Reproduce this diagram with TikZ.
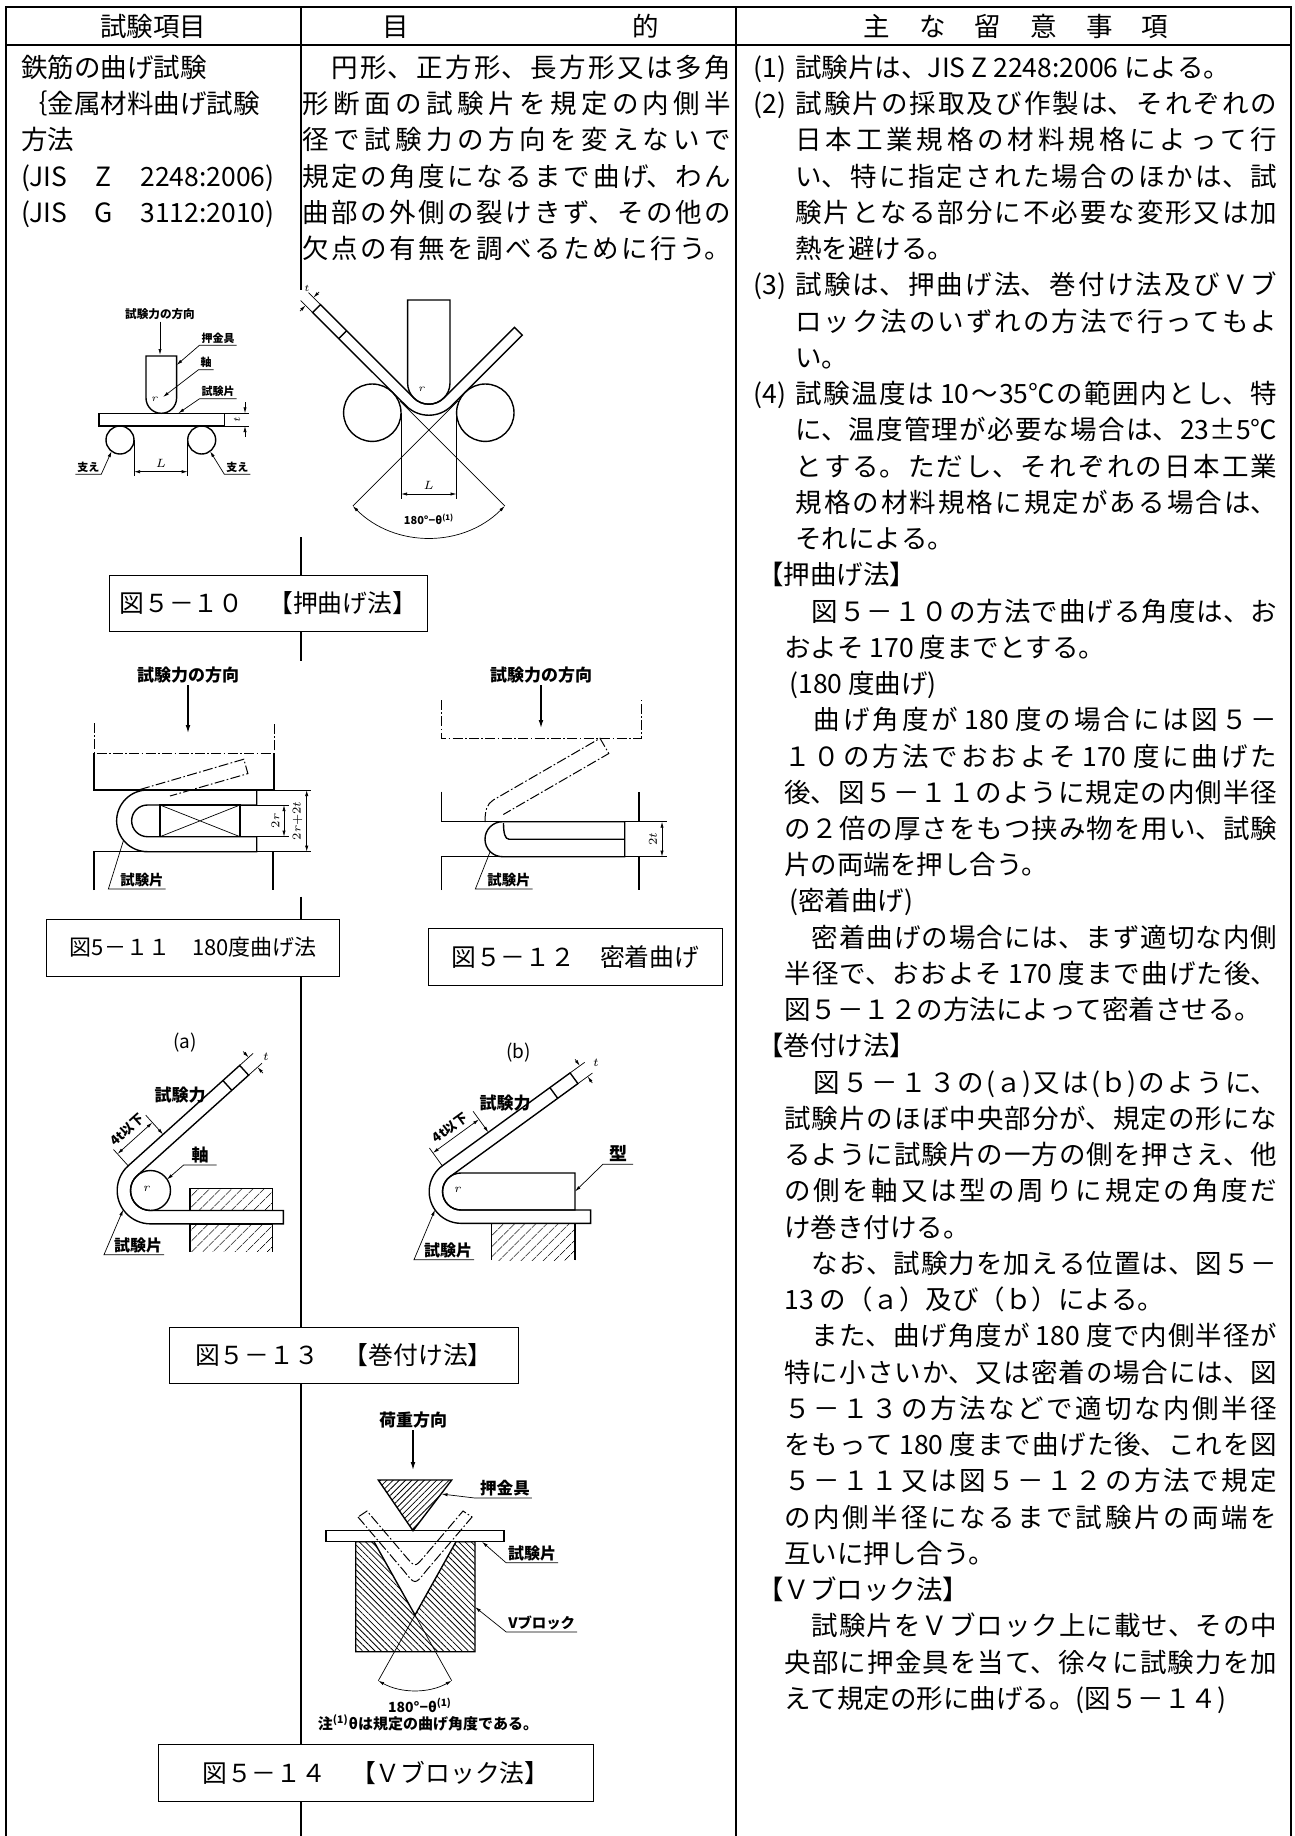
\documentclass[tikz,border=0pt]{standalone}
\usepackage{fontspec}
\setmainfont{Noto Sans CJK JP}
\usetikzlibrary{arrows.meta,patterns.meta}
\XeTeXlinebreaklocale "ja"
\XeTeXlinebreakskip=0pt plus 8pt minus 1pt
\XeTeXlinebreakpenalty=10000
\setlength{\parindent}{0pt}
\setlength{\parskip}{0pt}
\tolerance=10000
\newcommand{\bodyfont}{\fontsize{13.25pt}{18.12pt}\selectfont}
\tikzset{
  tbl/.style={line width=1pt},
  body/.style={font=\bodyfont, inner sep=0pt, anchor=north west, align=justify},
  capbox/.style={draw, line width=0.5pt, inner sep=0pt, font=\fontsize{#1}{#1}\selectfont},
  lbl/.style={font=\bfseries\fontsize{#1}{#1}\selectfont, inner sep=0.8pt},
  fig/.style={line width=0.7pt},
  thinline/.style={line width=0.35pt},
  ghost/.style={line width=0.5pt, dash pattern=on 5pt off 1.2pt on 0.8pt off 1.2pt},
  dimarr/.style={line width=0.35pt, {Latex[length=3pt,width=1.6pt]}-{Latex[length=3pt,width=1.6pt]}},
  leader/.style={line width=0.35pt, -{Latex[length=3pt,width=1.6pt]}},
  force/.style={line width=0.6pt, -{Latex[length=4pt,width=2.4pt]}},
  hatch/.style 2 args={pattern={Lines[angle=#1,distance=#2,line width=0.4pt]}},
}
\begin{document}
\begin{tikzpicture}[x=0.5pt,y=-0.5pt]
\useasboundingbox (0,0) rectangle (1295,1836);

\draw[tbl] (6,1836) -- (6,7) -- (1291,7) -- (1291,1836);
\draw[tbl] (6,45) -- (1291,45);
\draw[tbl] (736,7) -- (736,1836);
\draw[tbl] (300.7,7) -- (300.7,290);
\draw[tbl] (300.7,537) -- (300.7,575);
\draw[tbl] (300.7,631) -- (300.7,661);
\draw[tbl] (300.7,896.7) -- (300.7,919.3);
\draw[tbl] (300.7,976) -- (300.7,1327);
\draw[tbl] (300.7,1383) -- (300.7,1744.3);
\draw[tbl] (300.7,1801) -- (300.7,1836);

\node[font=\bodyfont] (H_item) at (153.4,26) {試験項目};
\node[font=\bodyfont] (H_purpose) at (520.5,26) {目\hspace{112pt}的};
\node[font=\bodyfont] (H_notes) at (1016,26) {主\hspace{1.1em}な\hspace{1.1em}留\hspace{1.1em}意\hspace{1.1em}事\hspace{1.1em}項};

\node[body, text width=135pt, align=left] (C1_text) at (21,51.7) {\strut 鉄筋の曲げ試験\\ ｛金属材料曲げ試験\\ 方法\\ \makebox[126.5pt]{(JIS\hfill Z\hfill 2248:2006)}\\ \makebox[126.5pt]{(JIS\hfill G\hfill 3112:2010)}};

\node[body, text width=214.5pt] (C2_text) at (302,51.7) {\strut\parfillskip=0pt 　円形、正方形、長方形又は多角\linebreak 形断面の試験片を規定の内側半\linebreak 径で試験力の方向を変えないで\linebreak 規定の角度になるまで曲げ、わん\linebreak 曲部の外側の裂けきず、その他の\linebreak 欠点の有無を調べるために行う。\par};

\node[body, text width=262pt] (C3_items) at (753,51.7) {\strut\hangindent=21pt\makebox[21pt][l]{(1)}試験片は、JIS Z 2248:2006 による。\par
\hangindent=21pt\makebox[21pt][l]{(2)}試験片の採取及び作製は、それぞれの\linebreak 日本工業規格の材料規格によって行\linebreak い、特に指定された場合のほかは、試\linebreak 験片となる部分に不必要な変形又は加\linebreak 熱を避ける。\par
\hangindent=21pt\makebox[21pt][l]{(3)}試験は、押曲げ法、巻付け法及びＶブ\linebreak ロック法のいずれの方法で行ってもよ\linebreak い。\par
\hangindent=21pt\makebox[21pt][l]{(4)}試験温度は 10～35℃の範囲内とし、特\linebreak に、温度管理が必要な場合は、23±5℃\linebreak とする。ただし、それぞれの日本工業\linebreak 規格の材料規格に規定がある場合は、\linebreak それによる。\par};

\node[body] (C3_head1) at (757,559.06) {\strut【押曲げ法】};
\node[body, text width=246.5pt] (C3_push) at (784,595.3) {\strut 　図５－１０の方法で曲げる角度は、お\linebreak およそ 170 度までとする。\par
\hspace*{2.5pt}(180 度曲げ)\par
　曲げ角度が 180 度の場合には図５－\linebreak １０の方法でおおよそ 170 度に曲げた\linebreak 後、図５－１１のように規定の内側半径\linebreak の２倍の厚さをもつ挟み物を用い、試験\linebreak 片の両端を押し合う。\par
\hspace*{2.5pt}(密着曲げ)\par
　密着曲げの場合には、まず適切な内側\linebreak 半径で、おおよそ 170 度まで曲げた後、\linebreak 図５－１２の方法によって密着させる。\par};

\node[body] (C3_head2) at (757,1030.18) {\strut【巻付け法】};
\node[body, text width=246.5pt] (C3_wind) at (784,1066.42) {\strut 　図５－１３の(ａ)又は(ｂ)のように、\linebreak 試験片のほぼ中央部分が、規定の形にな\linebreak るように試験片の一方の側を押さえ、他\linebreak の側を軸又は型の周りに規定の角度だ\linebreak け巻き付ける。\par
　なお、試験力を加える位置は、図５－\linebreak 13 の（ａ）及び（ｂ）による。\par
　また、曲げ角度が 180 度で内側半径が\linebreak 特に小さいか、又は密着の場合には、図\linebreak ５－１３の方法などで適切な内側半径\linebreak をもって 180 度まで曲げた後、これを図\linebreak ５－１１又は図５－１２の方法で規定\linebreak の内側半径になるまで試験片の両端を\linebreak 互いに押し合う。\par};

\node[body] (C3_head3) at (757,1573.78) {\strut【Ｖブロック法】};
\node[body, text width=246.5pt] (C3_vblock) at (784,1610.02) {\strut 　試験片をＶブロック上に載せ、その中\linebreak 央部に押金具を当て、徐々に試験力を加\linebreak えて規定の形に曲げる。(図５－１４)\par};

\node[capbox=12.4, minimum width=158.75pt, minimum height=28pt] (Box_10) at (268.35,603) {図５－１０　【押曲げ法】};
\node[capbox=11, minimum width=146.55pt, minimum height=28.35pt] (Box_11) at (193.25,947.65) {図5－１１　180度曲げ法};
\node[capbox=12.4, minimum width=147.35pt, minimum height=28.35pt] (Box_12) at (575.35,956.65) {図５－１２　密着曲げ};
\node[capbox=12.4, minimum width=174.5pt, minimum height=28pt] (Box_13) at (343.9,1355) {図５－１３　【巻付け法】};
\node[capbox=12.4, minimum width=217.5pt, minimum height=28.35pt] (Box_14) at (375.8,1772.65) {図５－１４　【Ｖブロック法】};

\node[lbl=5.8] (F10_force) at (160,314) {試験力の方向};
\coordinate (F10_tip) at (160,355);
\draw[leader] (F10_force.south) -- (F10_tip);
\draw[fig] (146,356) -- (146,398) arc[start angle=180,end angle=0,radius=15.3] -- (176.6,356) -- cycle;
\draw[fig] (99,413.3) rectangle (224.3,426);
\draw[fig] (120,440) circle[radius=14] (201.7,440) circle[radius=14];
\draw[thinline] (134,440) -- (134,476) (187.7,440) -- (187.7,476);
\draw[dimarr] (134,471.7) -- (187.7,471.7);
\node[lbl=6] (F10_L) at (161,463) {$L$};
\node[lbl=5.5] (F10_supL) at (88.3,467) {支え};
\coordinate (F10_supLtip) at (111.6,451.2);
\draw[leader] (F10_supL.south west) -- (F10_supL.south east) -- (F10_supLtip);
\node[lbl=5.5] (F10_supR) at (237.3,467) {支え};
\coordinate (F10_supRtip) at (210.1,451.2);
\draw[leader] (F10_supR.south east) -- (F10_supR.south west) -- (F10_supRtip);
\node[lbl=5.5] (F10_punch) at (218,338) {押金具};
\coordinate (F10_punchTip) at (176.6,365);
\draw[leader] (F10_punch.south east) -- (F10_punch.south west) -- (F10_punchTip);
\node[lbl=5.5] (F10_axis) at (206,362.5) {軸};
\coordinate (F10_axisTip) at (163,397);
\draw[leader] (F10_axis.south east) -- (F10_axis.south west) -- (F10_axisTip);
\node[lbl=5.5] (F10_spec) at (218,391.5) {試験片};
\coordinate (F10_specTip) at (178.3,413.3);
\draw[leader] (F10_spec.south east) -- (F10_spec.south west) -- (F10_specTip);
\node[font=\fontsize{5}{5}\selectfont, inner sep=0pt] (F10_r1) at (155,399) {$r$};
\draw[thinline] (224.3,413.3) -- (249,413.3) (224.3,426) -- (249,426);
\draw[leader] (245,402) -- (245,413.3);
\draw[leader] (245,437) -- (245,426);
\node[lbl=5.5, rotate=90] (F10_t1) at (237,419.7) {$t$};

\draw[fig] (407.6,300) -- (407.6,383) arc[start angle=180,end angle=0,radius=21.2] -- (450,300) -- cycle;
\draw[fig] (320.5,304.7) -- (413.8,398) arc[start angle=135,end angle=45,radius=21.2] -- (514.5,327.3) -- (522.3,335.1) -- (451.6,405.8) arc[start angle=45,end angle=135,radius=32.2] -- (312.7,312.5) -- cycle;
\draw[fig] (346.6,330.8) -- (338.8,338.6);
\draw[thinline] (320.5,304.7) -- (308.5,292.7) (312.7,312.5) -- (300.7,300.5);
\draw[leader] (319.1,291.9) -- (313.4,297.6);
\draw[leader] (299.9,311.1) -- (305.6,305.4);
\node[lbl=5.5] (F10_t2) at (307,288) {$t$};
\node[font=\fontsize{5}{5}\selectfont, inner sep=0pt] (F10_r2) at (422,389) {$r$};
\draw[fig] (372.3,412.7) circle[radius=28.7] (485.3,412.7) circle[radius=28.7];
\draw[thinline] (401,412.7) -- (401,499) (456.6,412.7) -- (456.6,499);
\draw[dimarr] (401,494) -- (456.6,494);
\node[lbl=6] (F10_L2) at (428.8,485.5) {$L$};
\draw[thinline] (352.8,506) -- (457.8,401) (504.8,506) -- (399.8,401);
\draw[dimarr] (504.8,506) arc[start angle=45,end angle=135,radius=107.5];
\node[lbl=5.5] (F10_angle) at (429,519) {180°−θ\textsuperscript{(1)}};

\node[lbl=8.5] (F11_force) at (188,675) {試験力の方向};
\coordinate (F11_tip) at (188,733);
\draw[force] (F11_force.south) -- (F11_tip);
\draw[ghost] (94,723) -- (94,753.3) -- (274,753.3) -- (274,723);
\draw[fig] (94,753.3) -- (94,790) -- (274,790) -- (274,753.3);
\draw[fig] (256.7,790) -- (147.5,790) arc[start angle=270,end angle=90,radius=30.85] -- (256.7,851.7) -- (256.7,836.7) -- (147.5,836.7) arc[start angle=90,end angle=270,radius=15.85] -- (256.7,805) -- cycle;
\draw[fig] (160,805) rectangle (240,836.7);
\draw[thinline] (160,805) -- (240,836.7) (160,836.7) -- (240,805);
\draw[fig] (94,890) -- (94,851.7) -- (273,851.7) -- (273,890);
\draw[ghost] (140,789.5) -- (243.8,759.2) -- (247.9,773.6) -- (170,796);
\draw[thinline] (256.7,790) -- (311,790) (256.7,851.7) -- (311,851.7);
\draw[dimarr] (306.7,790) -- (306.7,851.7);
\node[lbl=6.5, rotate=90] (F11_2r2t) at (297.5,820.8) {$2r{+}2t$};
\draw[thinline] (240,805) -- (289,805) (240,836.7) -- (289,836.7);
\draw[dimarr] (284,805) -- (284,836.7);
\node[lbl=6.5, rotate=90] (F11_2r) at (275.5,820.8) {$2r$};
\node[lbl=7.2] (F11_spec) at (142,880) {試験片};
\coordinate (F11_specTip) at (123.3,841);
\draw[thinline] (F11_spec.south east) -- ([xshift=-5pt]F11_spec.south west) -- (F11_specTip);

\node[lbl=8.5] (F12_force) at (541,675) {試験力の方向};
\coordinate (F12_tip) at (541,728);
\draw[force] (F12_force.south) -- (F12_tip);
\draw[ghost] (441.7,700) -- (441.7,738.3) -- (641,738.3) -- (641,700);
\draw[ghost] (485,822) .. controls (485,810) and (487,804) .. (493.3,800) -- (600,738.3) -- (608.8,753.5) -- (503.3,814.5);
\draw[fig] (441.7,791.7) -- (441.7,821.7) -- (639,821.7) -- (639,791.7);
\draw[fig] (624.7,821.7) -- (502.5,821.7) arc[start angle=270,end angle=90,radius=17.5] -- (624.7,856.7) -- cycle;
\draw[fig] (503.5,823) .. controls (503.5,833) and (505,839.2) .. (509,839.2) -- (624.7,839.2);
\draw[fig] (441.7,890) -- (441.7,856.7) -- (639,856.7) -- (639,890);
\draw[thinline] (639,821.7) -- (667,821.7) (639,856.7) -- (667,856.7);
\draw[dimarr] (662,821.7) -- (662,856.7);
\node[lbl=6.5, rotate=90] (F12_2t) at (653,839.2) {$2t$};
\node[lbl=7.2] (F12_spec) at (509,880) {試験片};
\coordinate (F12_specTip) at (490,852);
\draw[thinline] (F12_spec.south east) -- ([xshift=-5pt]F12_spec.south west) -- (F12_specTip);

\node[font=\fontsize{9.5}{9.5}\selectfont] (F13a_cap) at (185,1043) {(a)};
\fill[hatch={45}{4pt}] (190,1188.3) rectangle (272.7,1210.5);
\draw[fig] (190,1210.5) -- (190,1188.3) -- (272.7,1188.3) -- (272.7,1210.5);
\fill[hatch={45}{4pt}] (190,1223.8) rectangle (272.7,1251.7);
\draw[fig] (190,1251.7) -- (190,1223.8) -- (272.7,1223.8) -- (272.7,1251.7);
\draw[fig] (150.5,1190.5) circle[radius=20];
\draw[fig] (283.3,1210.5) -- (150.5,1210.5) arc[start angle=90,end angle=228,radius=20] -- (248.6,1075.2) -- (239.7,1065.4) -- (128.2,1165.8) arc[start angle=228,end angle=90,radius=33.3] -- (283.3,1223.8) -- cycle;
\draw[fig] (231.8,1090.3) -- (222.9,1080.5);
\draw[thinline] (248.6,1075.2) -- (262,1063.2) (239.7,1065.4) -- (253.1,1053.4);
\draw[leader] (262.9,1073.1) -- (257.5,1067.2);
\draw[leader] (243.2,1051.5) -- (248.6,1057.4);
\node[lbl=6] (F13a_t) at (266,1057) {$t$};
\node[lbl=8.5] (F13a_force) at (180,1095) {試験力};
\coordinate (F13a_from) at (145.7,1115.1);
\coordinate (F13a_P) at (163.1,1134.4);
\draw[leader] (F13a_from) -- (F13a_P);
\draw[thinline] (128.2,1165.8) -- (113.5,1149.5);
\draw[dimarr] (117.5,1153.9) -- (152.4,1122.5);
\node[lbl=6.5, rotate=42] (F13a_4t) at (127.5,1130) {4t以下};
\node[lbl=8.5] (F13a_axis) at (200,1155) {軸};
\coordinate (F13a_axisTip) at (167,1179.5);
\draw[leader] ([xshift=3pt]F13a_axis.south east) -- ([xshift=-3pt]F13a_axis.south west) -- (F13a_axisTip);
\node[font=\fontsize{6}{6}\selectfont, inner sep=0pt] (F13a_r) at (147,1189) {$r$};
\node[lbl=8] (F13a_spec) at (138,1245) {試験片};
\coordinate (F13a_specTip) at (123.2,1209.6);
\draw[leader] (F13a_spec.south east) -- ([xshift=-4pt]F13a_spec.south west) -- (F13a_specTip);

\node[font=\fontsize{9.5}{9.5}\selectfont] (F13b_cap) at (518.3,1053) {(b)};
\fill[hatch={45}{4pt}] (491.7,1223.3) rectangle (575,1260);
\draw[fig] (491.7,1260) -- (491.7,1223.3) -- (575,1223.3) -- (575,1260);
\draw[fig] (461,1173) -- (575,1173) -- (575,1210) -- (461,1210) arc[start angle=90,end angle=270,radius=18.5] -- cycle;
\draw[fig] (590.6,1210) -- (461,1210) arc[start angle=90,end angle=234,radius=18.5] -- (577.9,1083.6) -- (570.1,1072.9) -- (442.3,1165.8) arc[start angle=234,end angle=90,radius=31.8] -- (590.6,1223.3) -- cycle;
\draw[fig] (557.7,1098.3) -- (549.9,1087.6);
\draw[thinline] (577.9,1083.6) -- (592.5,1073) (570.1,1072.9) -- (584.7,1062.3);
\draw[leader] (592.3,1083) -- (587.6,1076.5);
\draw[leader] (575.1,1059.3) -- (579.8,1065.8);
\node[lbl=6] (F13b_t) at (596,1063) {$t$};
\node[lbl=8.5] (F13b_force) at (505,1103) {試験力};
\coordinate (F13b_from) at (473.1,1111.3);
\coordinate (F13b_P) at (488.4,1132.3);
\draw[leader] (F13b_from) -- (F13b_P);
\draw[thinline] (442.3,1165.8) -- (429.4,1148);
\draw[dimarr] (432.9,1152.9) -- (479,1119.4);
\node[lbl=6.5, rotate=36] (F13b_4t) at (450,1128) {4t以下};
\node[lbl=9] (F13b_die) at (618,1154) {型};
\coordinate (F13b_dieTip) at (575,1191.5);
\draw[leader] ([xshift=2pt]F13b_die.south east) -- ([xshift=-2pt]F13b_die.south west) -- (F13b_dieTip);
\node[font=\fontsize{6}{6}\selectfont, inner sep=0pt] (F13b_r) at (458,1190) {$r$};
\node[lbl=8] (F13b_spec) at (448,1250) {試験片};
\coordinate (F13b_specTip) at (435,1209.7);
\draw[leader] (F13b_spec.south east) -- ([xshift=-4pt]F13b_spec.south west) -- (F13b_specTip);

\node[lbl=8.5] (F14_load) at (413,1420) {荷重方向};
\coordinate (F14_tip) at (413,1470);
\draw[force] (F14_load.south) -- (F14_tip);
\draw[fig, hatch={45}{2.2pt}] (378.3,1480) -- (451.7,1480) -- (413,1530.7) -- cycle;
\draw[fig, hatch={-45}{2.2pt}] (355.7,1541.7) -- (374,1541.7) -- (415,1615) -- (456,1541.7) -- (475,1541.7) -- (475,1651.7) -- (355.7,1651.7) -- cycle;
\draw[fig] (326,1530.7) rectangle (504,1541.7);
\draw[thinline] (415,1615) -- (451.7,1680.7) (415,1615) -- (378.3,1680.7);
\draw[dimarr] (451.7,1680.7) arc[start angle=60.8,end angle=119.2,radius=75.3];
\draw[ghost] (358,1517) -- (404,1571) .. controls (415,1585) .. (426,1571) -- (472,1517) -- (463,1511) -- (423,1558) .. controls (415,1567) .. (407,1558) -- (367,1511) -- cycle;
\node[lbl=8.3] (F14_punch) at (505,1488) {押金具};
\coordinate (F14_punchTip) at (441.5,1494);
\draw[leader] (F14_punch.south east) -- ([xshift=-2pt]F14_punch.south west) -- (F14_punchTip);
\node[lbl=8] (F14_spec) at (532,1553) {試験片};
\coordinate (F14_specTip) at (482,1541.7);
\draw[leader] (F14_spec.south east) -- (F14_spec.south west) -- (F14_specTip);
\node[lbl=7.2] (F14_block) at (541.7,1623) {Vブロック};
\coordinate (F14_blockTip) at (475,1607);
\draw[leader] (F14_block.south east) -- (F14_block.south west) -- (F14_blockTip);
\node[lbl=7] (F14_angle) at (420,1705) {180°−θ\textsuperscript{(1)}};
\node[lbl=7.5] (F14_note) at (428,1723.3) {注\textsuperscript{(1)}θは規定の曲げ角度である。};
\end{tikzpicture}
\end{document}
